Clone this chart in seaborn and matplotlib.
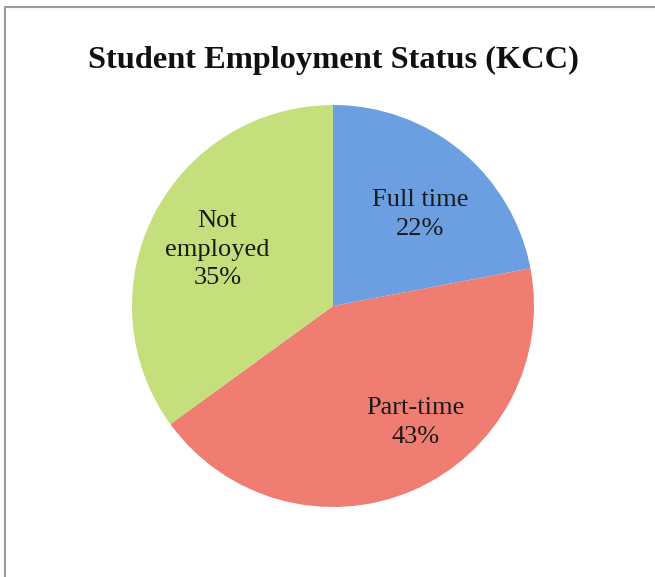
import matplotlib
matplotlib.use("Agg")
import matplotlib.pyplot as plt
import seaborn as sns
import numpy as np
from matplotlib.lines import Line2D

sns.set_theme(style="white")
plt.rcParams['font.family'] = ['Liberation Serif', 'DejaVu Serif']

categories = ["Full time", "Part-time", "Not\nemployed"]
values = [22, 43, 35]
colors = ["#6c9fe2", "#ef7d72", "#c4df7b"]
# label placement style: radial fraction and angular shift (deg) from wedge middle
label_radius = [0.63, 0.71, 0.64]
label_shift = [-4, 12, 1]

W, H = 655, 577
fig = plt.figure(figsize=(W / 100, H / 100), dpi=100)
fig.patch.set_facecolor("white")

cx, cy, r = 333, 306, 201
ax = fig.add_axes([(cx - r) / W, (H - cy - r) / H, 2 * r / W, 2 * r / H])
wedges, _ = ax.pie(values, colors=colors, startangle=90, counterclock=False,
                   wedgeprops=dict(linewidth=0))
ax.set_xlim(-1, 1)
ax.set_ylim(-1, 1)
ax.set_aspect("equal")

total = sum(values)
for w, cat, v, lr, sh in zip(wedges, categories, values, label_radius, label_shift):
    ang = np.deg2rad((w.theta1 + w.theta2) / 2 + sh)
    ax.text(lr * np.cos(ang), lr * np.sin(ang), f"{cat}\n{round(100 * v / total)}%",
            ha="center", va="center", fontsize=19, color="#1a1a1a", linespacing=1.4)

fig.text(333 / W, 1 - 60 / H, "Student Employment Status (KCC)", ha="center", va="center",
         fontsize=23.3, fontweight="bold", color="#111111")

# frame lines (top and left)
fig.add_artist(Line2D([5 / W, 1], [1 - 7 / H, 1 - 7 / H], color="#9a9a9a", lw=1.5))
fig.add_artist(Line2D([5 / W, 5 / W], [0, 1 - 7 / H], color="#9a9a9a", lw=1.5))

fig.savefig("out.png", dpi=100, facecolor="white")
